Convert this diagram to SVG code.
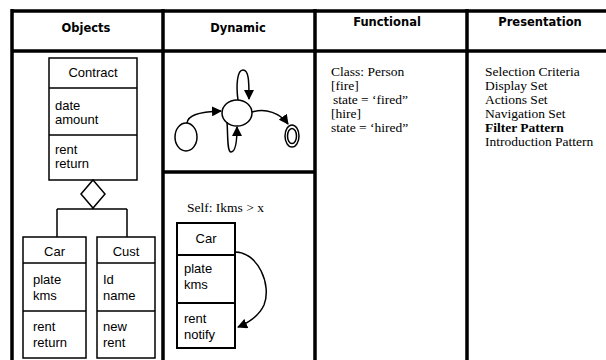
<svg xmlns="http://www.w3.org/2000/svg" width="606" height="360" viewBox="0 0 606 360">
  <style>
    .grid { stroke: #000; stroke-width: 3.5; fill: none; }
    .box { stroke: #000; stroke-width: 1.5; fill: #fff; }
    .boxb { stroke: #000; stroke-width: 2; fill: #fff; }
    .ln { stroke: #000; stroke-width: 1.5; fill: none; }
    .head { font-family: "DejaVu Sans", "Liberation Sans", sans-serif; font-size: 11.5px; font-weight: bold; text-anchor: middle; }
    .sans { font-family: "Liberation Sans", Arial, sans-serif; font-size: 13px; }
    .mid { text-anchor: middle; }
    .serif { font-family: "Liberation Serif", "Times New Roman", serif; font-size: 13.5px; }
  </style>
  <defs>
    <marker id="arr" viewBox="0 0 10 10" refX="9" refY="5" markerWidth="10" markerHeight="10" orient="auto" markerUnits="userSpaceOnUse">
      <path d="M0,0 L10,5 L0,10 z" fill="#000"/>
    </marker>
  </defs>
  <rect width="606" height="360" fill="#fff"/>

  <!-- table frame -->
  <g id="table">
    <path class="grid" d="M12,11 H606 M12,51 H606 M12,9 V360 M163,9 V360 M315,9 V360 M467,9 V360 M163,172 H315"/>
    <text class="head" x="86" y="32">Objects</text>
    <text class="head" x="238" y="32">Dynamic</text>
    <text class="head" x="387" y="26">Functional</text>
    <text class="head" x="540" y="26">Presentation</text>
  </g>

  <!-- Objects column -->
  <g id="contract">
    <rect class="box" x="49" y="58" width="88" height="122"/>
    <path class="ln" d="M49,88 H137 M49,135 H137"/>
    <text class="sans mid" x="93" y="77">Contract</text>
    <text class="sans" x="55" y="110">date</text>
    <text class="sans" x="55" y="124">amount</text>
    <text class="sans" x="55" y="154">rent</text>
    <text class="sans" x="55" y="168">return</text>
  </g>
  <g id="car">
    <rect class="box" x="23" y="237" width="63" height="121"/>
    <path class="ln" d="M23,263 H86 M23,311 H86"/>
    <text class="sans mid" x="54.5" y="256">Car</text>
    <text class="sans" x="33" y="284">plate</text>
    <text class="sans" x="33" y="300">kms</text>
    <text class="sans" x="33" y="331">rent</text>
    <text class="sans" x="33" y="347">return</text>
  </g>
  <g id="cust">
    <rect class="box" x="97" y="237" width="58" height="121"/>
    <path class="ln" d="M97,263 H155 M97,311 H155"/>
    <text class="sans mid" x="126" y="256">Cust</text>
    <text class="sans" x="103" y="284">Id</text>
    <text class="sans" x="103" y="300">name</text>
    <text class="sans" x="103" y="331">new</text>
    <text class="sans" x="103" y="347">rent</text>
  </g>

  <!-- Dynamic column: state machine -->
  <g id="start">
    <ellipse class="ln" cx="186" cy="137" rx="11" ry="14"/>
  </g>
  <g id="state">
    <ellipse class="ln" cx="237" cy="113" rx="15" ry="13"/>
  </g>
  <g id="end">
    <ellipse class="ln" cx="292" cy="136" rx="7" ry="11"/>
    <ellipse class="ln" cx="292" cy="136" rx="4.5" ry="7.5"/>
  </g>

  <!-- Dynamic column: object with self call -->
  <g id="self-label">
    <text class="serif" x="187" y="212">Self: Ikms &gt; x</text>
  </g>
  <g id="car-dyn">
    <rect class="boxb" x="177" y="223" width="58" height="125"/>
    <path class="boxb" d="M177,255 H235 M177,303 H235"/>
    <text class="sans mid" x="206" y="243">Car</text>
    <text class="sans" x="184" y="273">plate</text>
    <text class="sans" x="184" y="289">kms</text>
    <text class="sans" x="184" y="323">rent</text>
    <text class="sans" x="184" y="339">notify</text>
  </g>

  <!-- connectors -->
  <g id="connectors">
    <polygon class="box" points="93,180 105,194 93,208 81,194"/>
    <path class="ln" d="M93,208 V209 M57,209 H127 M57,209 V237 M127,209 V237"/>
    <path class="ln" marker-end="url(#arr)" d="M187,123 C188,116 196,112 221,111"/>
    <path class="ln" marker-end="url(#arr)" d="M252,112 C266,108 280,113 288,124"/>
    <path class="ln" marker-end="url(#arr)" d="M238,100 C236,86 237,70 243,70 C249,70 249,82 249,99"/>
    <path class="ln" marker-end="url(#arr)" d="M227,122 C228,135 227,152 231,152 C236,152 237,140 237,127"/>
    <path class="ln" marker-end="url(#arr)" d="M235,252 C258,252 272,285 264,305 C259,316 250,322 238,327"/>
  </g>

  <!-- Functional column -->
  <g id="functional">
    <text class="serif" x="331" y="76">Class: Person</text>
    <text class="serif" x="331" y="90">[fire]</text>
    <text class="serif" x="333" y="104">state = ‘fired”</text>
    <text class="serif" x="331" y="118">[hire]</text>
    <text class="serif" x="331" y="132">state = ‘hired”</text>
  </g>

  <!-- Presentation column -->
  <g id="presentation">
    <text class="serif" x="485" y="76">Selection Criteria</text>
    <text class="serif" x="485" y="90">Display Set</text>
    <text class="serif" x="485" y="104">Actions Set</text>
    <text class="serif" x="485" y="118">Navigation Set</text>
    <text class="serif" x="485" y="132" font-weight="bold">Filter Pattern</text>
    <text class="serif" x="485" y="146">Introduction Pattern</text>
  </g>
</svg>
